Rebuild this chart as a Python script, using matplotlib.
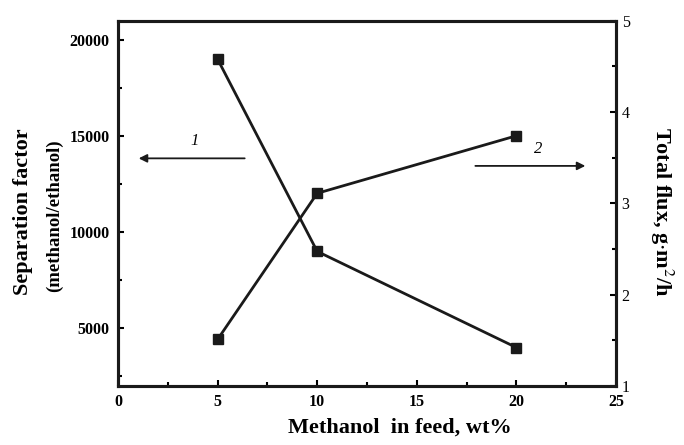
import matplotlib
matplotlib.use("Agg")
import matplotlib.pyplot as plt
from matplotlib.ticker import MultipleLocator

plt.rcParams['font.family'] = ['Liberation Serif', 'DejaVu Serif']
plt.rcParams['mathtext.fontset'] = 'stix'

methanol = [5, 10, 20]
separation_factor = [19000, 9000, 4000]
total_flux = [1.51, 3.11, 3.74]

W, H = 684, 445
fig = plt.figure(figsize=(W / 100, H / 100), dpi=100)
ax = fig.add_axes([0.1725, 0.1326, 0.7281, 0.8209])
ax2 = ax.twinx()

ax.plot(methanol, separation_factor, color='#1a1a1a', lw=2, marker='s', ms=7, zorder=3)
ax2.plot(methanol, total_flux, color='#1a1a1a', lw=2, marker='s', ms=7, zorder=3)

ax.set_xlim(0, 25)
ax.set_ylim(2000, 21000)
ax2.set_ylim(1, 5)

ax.xaxis.set_major_locator(MultipleLocator(5))
ax.xaxis.set_minor_locator(MultipleLocator(2.5))
ax.yaxis.set_major_locator(MultipleLocator(5000))
ax.yaxis.set_minor_locator(MultipleLocator(2500))
ax2.yaxis.set_major_locator(MultipleLocator(1))
ax2.yaxis.set_minor_locator(MultipleLocator(0.5))

for a in (ax, ax2):
    for s in a.spines.values():
        s.set_linewidth(2.2)
        s.set_color('#1a1a1a')

ax.tick_params(axis='both', which='major', direction='in', length=4, width=1.5, labelsize=11.5, pad=6)
ax.tick_params(axis='both', which='minor', direction='in', length=3, width=1.5)
ax.tick_params(axis='y', which='both', right=False)
ax.tick_params(axis='x', which='both', top=False)
ax2.tick_params(axis='y', which='major', direction='in', length=4, width=1.5, labelsize=11.5, pad=4)
ax2.tick_params(axis='y', which='minor', direction='in', length=3, width=1.5)

for lab in ax.get_xticklabels() + ax.get_yticklabels():
    lab.set_fontweight('bold')

fig.text(400 / W, 1 - 428 / H, 'Methanol  in feed, wt%', fontsize=16, fontweight='bold',
         ha='center', va='center')
fig.text(23 / W, 1 - 212 / H, 'Separation factor', rotation=90,
         ha='center', va='center', fontsize=16, fontweight='bold')
fig.text(54 / W, 1 - 216 / H, '(methanol/ethanol)', rotation=90,
         ha='center', va='center', fontsize=13.5, fontweight='bold')
fig.text(662 / W, 1 - 212 / H, r'Total flux, g$\cdot$m$^{2}$/h', fontsize=16, fontweight='bold',
         rotation=-90, ha='center', va='center')

ax.annotate('', xy=(0.9, 13840), xytext=(6.5, 13840),
            arrowprops=dict(arrowstyle='-|>', color='#1a1a1a', lw=1.3, mutation_scale=12))
ax.text(3.86, 14750, '1', fontsize=12, style='italic', ha='center', va='center')
ax2.annotate('', xy=(23.6, 3.41), xytext=(17.8, 3.41),
             arrowprops=dict(arrowstyle='-|>', color='#1a1a1a', lw=1.3, mutation_scale=12))
ax2.text(21.1, 3.59, '2', fontsize=12, style='italic', ha='center', va='center')

fig.savefig('out.png', dpi=100)
